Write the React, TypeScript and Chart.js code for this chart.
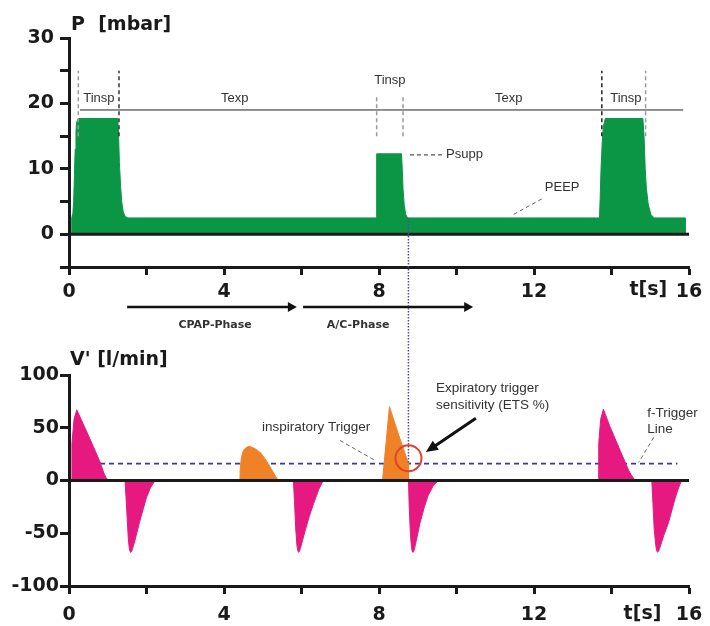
import React, { useEffect, useRef } from 'react';
import { Chart, registerables } from 'chart.js';
Chart.register(...registerables);

// ---------- data ----------
const timeTickLabels = [0, 4, 8, 12, 16];
const pressureTickLabels = [0, 10, 20, 30];
const flowTickLabels = [-100, -50, 0, 50, 100];

// pressure curve P [mbar] vs t [s]
const pressure: number[][] = [
  [0.07, 0], [0.07, 2.5], [0.1, 3.2], [0.12, 5], [0.14, 9], [0.16, 13], [0.18, 15.8], [0.2, 17.2], [0.24, 17.7],
  [1.26, 17.7], [1.28, 15], [1.3, 11], [1.33, 7.5], [1.36, 5], [1.4, 3.4], [1.45, 2.7], [1.52, 2.5],
  [7.94, 2.5], [7.94, 12.3], [8.58, 12.3], [8.6, 10], [8.62, 7], [8.65, 4.5], [8.69, 3], [8.74, 2.5],
  [13.69, 2.5], [13.71, 6], [13.73, 10], [13.76, 14], [13.79, 16.5], [13.84, 17.7],
  [14.81, 17.7], [14.84, 15], [14.87, 10], [14.9, 7], [14.95, 4.5], [15.02, 3], [15.1, 2.5],
  [15.9, 2.5], [15.9, 0],
];

// flow V' [l/min] vs t [s]
const inspiration1: number[][] = [
  [0.07, 0], [0.075, 35], [0.13, 58], [0.2, 67], [0.46, 46], [0.63, 32], [0.8, 17.5], [0.9, 7], [0.96, 2.5], [1.02, 0],
];
const expiration1: number[][] = [
  [1.445, 0], [1.47, -15], [1.5, -35], [1.53, -55], [1.555, -64], [1.575, -67.3], [1.595, -68], [1.615, -67.3], [1.64, -64.5], [1.7, -57], [1.83, -38], [2.0, -16], [2.1, -7], [2.22, 0],
];
const effortCpap: number[][] = [
  [4.41, 0], [4.42, 12], [4.45, 22], [4.5, 28.5], [4.58, 31.5], [4.66, 32.4], [4.75, 31], [4.85, 29], [4.95, 26], [5.05, 21], [5.14, 16], [5.25, 9], [5.33, 4], [5.4, 0],
];
const expiration2: number[][] = [
  [5.79, 0], [5.82, -20], [5.85, -45], [5.88, -61], [5.905, -66.5], [5.925, -68], [5.945, -67.3], [5.97, -64.5], [6.09, -48], [6.2, -34], [6.31, -22], [6.45, -8], [6.56, 0],
];
const effortAssisted: number[][] = [
  [8.09, 0], [8.27, 70], [8.5, 44], [8.76, 16], [8.76, 0],
];
const expiration3: number[][] = [
  [8.76, 0], [8.78, -25], [8.81, -50], [8.835, -62], [8.855, -66.8], [8.875, -68], [8.895, -67.3], [8.92, -64], [9.06, -40], [9.17, -25], [9.27, -14], [9.4, -5], [9.53, 0],
];
const inspiration2: number[][] = [
  [13.66, 0], [13.67, 35], [13.72, 58], [13.79, 67.6], [13.95, 52], [14.13, 36.5], [14.35, 17.5], [14.45, 9], [14.52, 4.8], [14.61, 0],
];
const expiration4: number[][] = [
  [15.04, 0], [15.07, -22], [15.1, -45], [15.14, -61], [15.165, -66.5], [15.19, -68], [15.21, -67.3], [15.24, -64.5], [15.35, -52], [15.47, -40], [15.64, -17], [15.73, -7], [15.81, 0],
];
const zeroLine: number[][] = [[0, 0], [16, 0]];
const triggerLevel: number[][] = [[0.8, 16], [15.7, 16]];

// ---------- styles ----------
const GREEN = '#0a9645';
const PINK = '#e5197f';
const ORANGE = '#ef8227';
const AXIS = '#1a1a1a';
const NAVY = '#3c3a8e';
const TEXT = '#333333';
const TICK_FONT = { family: 'DejaVu Sans', weight: 'bold' as const, size: 19 };
const SMALL = '13px "Liberation Sans", Arial, sans-serif';
const MID = '13.5px "Liberation Sans", Arial, sans-serif';

const xy = (a: number[][]) => a.map(([x, y]) => ({ x, y }));

function fillSet(a: number[][], color: string) {
  return { type: 'line' as const, data: xy(a), fill: 'origin', backgroundColor: color, borderColor: color, borderWidth: 1, pointRadius: 0, tension: 0, order: 1 };
}

function xScale(pad: number) {
  return {
    type: 'linear' as const, min: 0, max: 16,
    afterFit: (s: any) => { s.height = 40; s.paddingLeft = 0; s.paddingRight = 0; },
    ticks: {
      stepSize: 2, autoSkip: false, maxRotation: 0, padding: pad, color: AXIS, font: TICK_FONT,
      callback: (v: any) => (timeTickLabels.includes(v) ? String(v) : ''),
    },
    grid: { drawOnChartArea: false, drawTicks: true, tickLength: 8, tickWidth: 3, tickColor: AXIS },
    border: { display: true, width: 3, color: AXIS, z: 1 },
  };
}

function yScale(min: number, max: number, step: number, labels: number[], pad: number) {
  return {
    type: 'linear' as const, min, max,
    afterFit: (s: any) => { s.width = 69; },
    ticks: {
      stepSize: step, autoSkip: false, padding: pad, color: AXIS, font: TICK_FONT,
      callback: (v: any) => (labels.includes(v) ? String(v) : ''),
    },
    grid: { drawOnChartArea: false, drawTicks: true, tickLength: 9, tickWidth: 3, tickColor: AXIS },
    border: { display: true, width: 3, color: AXIS, z: 1 },
  };
}

// ---------- drawing helpers ----------
function txt(ctx: CanvasRenderingContext2D, s: string, x: number, y: number, font: string, color: string, align: CanvasTextAlign = 'left') {
  ctx.save();
  ctx.font = font; ctx.fillStyle = color; ctx.textAlign = align; ctx.textBaseline = 'middle';
  ctx.fillText(s, x, y);
  ctx.restore();
}
function line(ctx: CanvasRenderingContext2D, x1: number, y1: number, x2: number, y2: number, color: string, w: number, dash: number[] = []) {
  ctx.save();
  ctx.strokeStyle = color; ctx.lineWidth = w; ctx.setLineDash(dash);
  ctx.beginPath(); ctx.moveTo(x1, y1); ctx.lineTo(x2, y2); ctx.stroke();
  ctx.restore();
}
function arrow(ctx: CanvasRenderingContext2D, x1: number, y1: number, x2: number, y2: number, w: number, hl: number, hw: number, color: string) {
  const a = Math.atan2(y2 - y1, x2 - x1);
  const c = Math.cos(a), s = Math.sin(a);
  ctx.save();
  ctx.strokeStyle = color; ctx.fillStyle = color; ctx.lineWidth = w;
  ctx.beginPath(); ctx.moveTo(x1, y1); ctx.lineTo(x2 - hl * 0.8 * c, y2 - hl * 0.8 * s); ctx.stroke();
  ctx.beginPath();
  ctx.moveTo(x2, y2);
  ctx.lineTo(x2 - hl * c + hw * s, y2 - hl * s - hw * c);
  ctx.lineTo(x2 - hl * c - hw * s, y2 - hl * s + hw * c);
  ctx.closePath(); ctx.fill();
  ctx.restore();
}

const tinspMarks = [
  { t: 0.24, lo: 15, hi: 25, c: '#9a9a9a' },
  { t: 1.29, lo: 15, hi: 25, c: '#333333' },
  { t: 7.94, lo: 15, hi: 21, c: '#9a9a9a' },
  { t: 8.62, lo: 15, hi: 21, c: '#9a9a9a' },
  { t: 13.75, lo: 15, hi: 25, c: '#222222' },
  { t: 14.88, lo: 15, hi: 25, c: '#9a9a9a' },
];
const phaseLabels = [
  { text: 'Tinsp', t: 0.77, v: 20.8 },
  { text: 'Texp', t: 4.28, v: 20.8 },
  { text: 'Tinsp', t: 8.28, v: 23.5 },
  { text: 'Texp', t: 11.35, v: 20.8 },
  { text: 'Tinsp', t: 14.37, v: 20.8 },
];

const topAnno = {
  id: 'topAnno',
  afterDraw(chart: any) {
    const ctx = chart.ctx as CanvasRenderingContext2D;
    const X = (t: number) => chart.scales.x.getPixelForValue(t);
    const Y = (v: number) => chart.scales.y.getPixelForValue(v);
    const bottom = chart.chartArea.bottom;
    // title
    txt(ctx, 'P  [mbar]', X(0) + 2, Y(30) - 13, 'bold 19px "DejaVu Sans"', AXIS);
    // Tinsp markers
    tinspMarks.forEach(m => line(ctx, X(m.t), Y(m.lo), X(m.t), Y(m.hi), m.c, 1.5, [4, 3]));
    // Texp / Tinsp reference line
    line(ctx, X(0.28), Y(19), X(15.85), Y(19), '#222', 1);
    phaseLabels.forEach(l => txt(ctx, l.text, X(l.t), Y(l.v), SMALL, TEXT, 'center'));
    // Psupp
    line(ctx, X(8.8), Y(12.15), X(9.66), Y(12.15), '#555', 1.2, [4, 3]);
    txt(ctx, 'Psupp', X(9.73), Y(12.15), SMALL, TEXT);
    // PEEP
    line(ctx, X(12.2), Y(5.4), X(11.43), Y(2.9), '#666', 1, [4, 3]);
    txt(ctx, 'PEEP', X(12.28), Y(7.1), SMALL, TEXT);
    // t[s]
    txt(ctx, 't[s]', X(14.95), bottom + 23, 'bold 19px "DejaVu Sans"', AXIS, 'center');
    // phase arrows
    arrow(ctx, X(1.5), bottom + 40, X(5.88), bottom + 40, 2.5, 9, 5, '#111');
    arrow(ctx, X(6.04), bottom + 40, X(10.43), bottom + 40, 2.5, 9, 5, '#111');
    txt(ctx, 'CPAP-Phase', X(3.77), bottom + 58, 'bold 11px "DejaVu Sans"', TEXT, 'center');
    txt(ctx, 'A/C-Phase', X(7.46), bottom + 58, 'bold 11px "DejaVu Sans"', TEXT, 'center');
  },
};

function bottomAnno(top: Chart) {
  return {
    id: 'bottomAnno',
    afterDraw(chart: any) {
      const ctx = chart.ctx as CanvasRenderingContext2D;
      const X = (t: number) => chart.scales.x.getPixelForValue(t);
      const Y = (v: number) => chart.scales.y.getPixelForValue(v);
      const Ytop = (v: number) => (top as any).scales.y.getPixelForValue(v);
      const bottom = chart.chartArea.bottom;
      txt(ctx, "V' [l/min]", X(0) + 1, Y(100) - 15, 'bold 19px "DejaVu Sans"', AXIS);
      // ETS vertical
      line(ctx, X(8.76), Ytop(2.5), X(8.76), Y(16), '#5545b0', 1.5, [1.5, 1.5]);
      // circle
      ctx.save();
      ctx.strokeStyle = '#e2402e'; ctx.lineWidth = 2;
      ctx.beginPath(); ctx.arc(X(8.76), Y(21), 13, 0, Math.PI * 2); ctx.stroke();
      ctx.restore();
      // arrow to circle
      arrow(ctx, X(10.5), Y(59), X(9.21), Y(27), 3, 12, 5.5, '#111');
      txt(ctx, 'Expiratory trigger', X(9.47), Y(87), MID, TEXT);
      txt(ctx, 'sensitivity (ETS %)', X(9.47), Y(71), MID, TEXT);
      // inspiratory trigger
      txt(ctx, 'inspiratory Trigger', X(4.98), Y(50), MID, TEXT);
      line(ctx, X(6.99), Y(38), X(7.9), Y(19), '#666', 1, [4, 3]);
      // f-Trigger
      txt(ctx, 'f-Trigger', X(14.92), Y(64), MID, TEXT);
      txt(ctx, 'Line', X(14.92), Y(49), MID, TEXT);
      line(ctx, X(15.09), Y(41), X(14.7), Y(17), '#666', 1, [4, 3]);
      txt(ctx, 't[s]', X(14.8), bottom + 28, 'bold 19px "DejaVu Sans"', AXIS, 'center');
    },
  };
}

export default function App() {
  const r1 = useRef<HTMLCanvasElement>(null);
  const r2 = useRef<HTMLCanvasElement>(null);

  useEffect(() => {
    const c1 = new Chart(r1.current as HTMLCanvasElement, {
      type: 'line',
      data: {
        datasets: [
          { type: 'line', data: xy(zeroLine), borderColor: AXIS, borderWidth: 3, pointRadius: 0, fill: false, order: 0 } as any,
          fillSet(pressure, GREEN) as any,
        ],
      },
      options: {
        responsive: false, animation: false, devicePixelRatio: 1,
        layout: { padding: { top: 38, right: 21, bottom: 319, left: 0 } },
        plugins: { legend: { display: false }, tooltip: { enabled: false } },
        scales: { x: xScale(6) as any, y: yScale(-5, 30, 5, pressureTickLabels, 6) as any },
      },
      plugins: [topAnno],
    });
    const c2 = new Chart(r2.current as HTMLCanvasElement, {
      type: 'line',
      data: {
        datasets: [
          { type: 'line', data: xy(zeroLine), borderColor: AXIS, borderWidth: 3, pointRadius: 0, fill: false, order: 0 } as any,
          { type: 'line', data: xy(triggerLevel), borderColor: NAVY, borderWidth: 1.6, borderDash: [5, 4], pointRadius: 0, fill: false, order: 2 } as any,
          fillSet(inspiration1, PINK) as any,
          fillSet(expiration1, PINK) as any,
          fillSet(effortCpap, ORANGE) as any,
          fillSet(expiration2, PINK) as any,
          fillSet(effortAssisted, ORANGE) as any,
          fillSet(expiration3, PINK) as any,
          fillSet(inspiration2, PINK) as any,
          fillSet(expiration4, PINK) as any,
        ],
      },
      options: {
        responsive: false, animation: false, devicePixelRatio: 1,
        layout: { padding: { top: 375, right: 21, bottom: 0, left: 0 } },
        plugins: { legend: { display: false }, tooltip: { enabled: false } },
        scales: { x: xScale(10) as any, y: yScale(-100, 100, 50, flowTickLabels, 1) as any },
      },
      plugins: [bottomAnno(c1)],
    });
    return () => { c2.destroy(); c1.destroy(); };
  }, []);

  return (
    <div style={{ position: 'fixed', left: 0, top: 0, width: 710, height: 626, background: '#ffffff' }}>
      <canvas ref={r1} width={710} height={626} style={{ position: 'absolute', left: 0, top: 0 }} />
      <canvas ref={r2} width={710} height={626} style={{ position: 'absolute', left: 0, top: 0 }} />
    </div>
  );
}
